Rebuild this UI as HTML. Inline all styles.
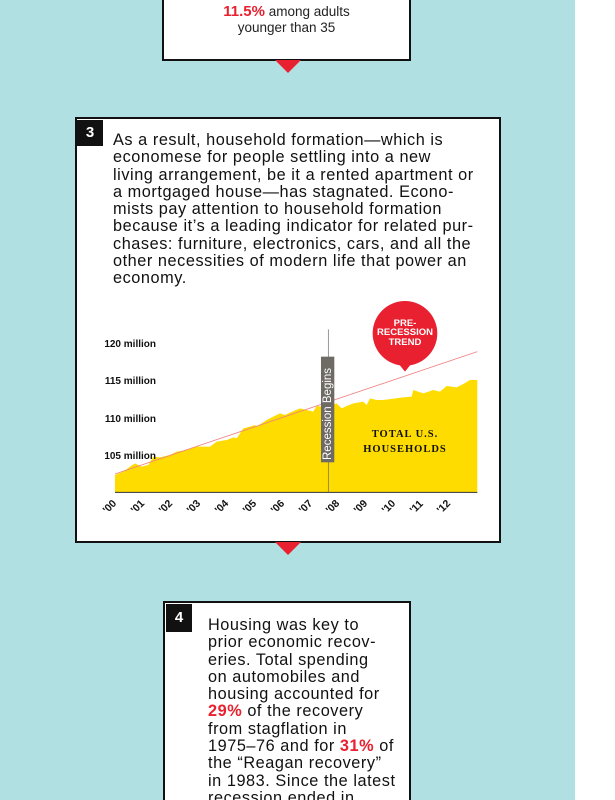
<!DOCTYPE html>
<html><head><meta charset="utf-8"><style>
html,body{margin:0;padding:0;overflow:hidden;}
body{width:615px;height:800px;position:relative;background:#fff;overflow:hidden;font-family:"Liberation Sans",sans-serif;}
.bg{position:absolute;left:0;top:0;width:575px;height:800px;background:#b0e0e2;}
.box{position:absolute;background:#fff;border:2px solid #111;box-sizing:border-box;}
.badge{position:absolute;background:#111;color:#fff;font-weight:bold;font-size:15px;text-align:center;}
.tri{position:absolute;width:0;height:0;border-left:13px solid transparent;border-right:13px solid transparent;border-top:13px solid #e8202f;}
.red{color:#e8202f;font-weight:bold;}
.txt{position:absolute;font-size:16.3px;line-height:17.3px;color:#111;white-space:nowrap;letter-spacing:0.55px;}
</style></head><body>
<div class="bg"></div>

<div class="box" style="left:162px;top:-4px;width:249px;height:65px;"></div>
<div style="position:absolute;left:162px;top:4px;width:249px;text-align:center;font-size:13.5px;line-height:16px;color:#222;"><span class="red" style="font-size:15px">11.5%</span> among adults<br>younger than 35</div>
<div class="tri" style="left:275px;top:60px;"></div>

<div class="box" style="left:75px;top:117px;width:426px;height:426px;"></div>
<div class="badge" style="left:77px;top:120px;width:26px;height:26px;line-height:26px;">3</div>
<div class="txt" style="left:113px;top:132px;">As a result, household formation—which is<br>economese for people settling into a new<br>living arrangement, be it a rented apartment or<br>a mortgaged house—has stagnated. Econo-<br>mists pay attention to household formation<br>because it’s a leading indicator for related pur-<br>chases: furniture, electronics, cars, and all the<br>other necessities of modern life that power an<br>economy.</div>

<svg style="position:absolute;left:0;top:0" width="615" height="800">
<g transform="translate(70,300) scale(0.3333)">
<polygon fill="#ffdc00" points="135,577 135,525 160,515 180,500 195,490 215,500 235,495 250,470 270,472 300,465 320,455 350,450 380,440 420,440 440,425 470,420 490,412 500,415 520,385 540,380 555,375 560,380 590,360 610,350 630,340 645,345 660,338 690,325 730,335 740,318 760,320 780,315 800,310 815,325 830,318 850,310 880,305 890,315 900,295 920,300 940,300 970,296 1000,292 1025,290 1030,270 1060,280 1090,270 1110,275 1130,258 1160,262 1180,252 1200,240 1222,240 1222,577"/>
<line x1="135" y1="522" x2="1222" y2="155" stroke="#f08080" stroke-width="2.5"/>
<line x1="135" y1="577" x2="1222" y2="577" stroke="#333" stroke-width="3"/>
<line x1="775" y1="88" x2="775" y2="577" stroke="#666" stroke-width="2"/>
<rect x="753" y="170" width="40" height="317" fill="#6e6a64"/>
<circle cx="1005" cy="100" r="97" fill="#e8202f"/>
<polygon points="985,190 1025,190 1005,215" fill="#e8202f"/>
</g>
<g font-family="Liberation Sans,sans-serif" font-weight="bold" font-size="10" fill="#111" text-anchor="end">
<text x="156" y="347">120 million</text>
<text x="156" y="384">115 million</text>
<text x="156" y="422">110 million</text>
<text x="156" y="459">105 million</text>
</g>
<text transform="translate(331,460) rotate(-90)" font-family="Liberation Sans,sans-serif" font-size="11.5" fill="#fff">Recession Begins</text>
<g font-family="Liberation Sans,sans-serif" font-weight="bold" font-size="9.5" fill="#fff" text-anchor="middle">
<text x="405" y="326">PRE-</text><text x="405" y="335">RECESSION</text><text x="405" y="345">TREND</text>
</g>
<g font-family="Liberation Serif,serif" font-weight="bold" font-size="10.5" fill="#111" text-anchor="middle" letter-spacing="1">
<text x="405" y="437">TOTAL U.S.</text><text x="405" y="452">HOUSEHOLDS</text>
</g>
<g font-family="Liberation Sans,sans-serif" font-weight="bold" font-size="10.5" fill="#111">
<text transform="translate(107,514) rotate(-45)">'00</text>
<text transform="translate(135,514) rotate(-45)">'01</text>
<text transform="translate(163,514) rotate(-45)">'02</text>
<text transform="translate(191,514) rotate(-45)">'03</text>
<text transform="translate(219,514) rotate(-45)">'04</text>
<text transform="translate(247,514) rotate(-45)">'05</text>
<text transform="translate(275,514) rotate(-45)">'06</text>
<text transform="translate(303,514) rotate(-45)">'07</text>
<text transform="translate(330,514) rotate(-45)">'08</text>
<text transform="translate(358,514) rotate(-45)">'09</text>
<text transform="translate(386,514) rotate(-45)">'10</text>
<text transform="translate(414,514) rotate(-45)">'11</text>
<text transform="translate(441,514) rotate(-45)">'12</text>
</g>
</svg>
<div class="tri" style="left:275px;top:542px;"></div>

<div class="box" style="left:163px;top:601px;width:248px;height:215px;"></div>
<div class="badge" style="left:166px;top:604px;width:26px;height:28px;line-height:28px;">4</div>
<div class="txt" style="left:208px;top:617px;">Housing was key to<br>prior economic recov-<br>eries. Total spending<br>on automobiles and<br>housing accounted for<br><span class="red">29%</span> of the recovery<br>from stagflation in<br>1975–76 and for <span class="red">31%</span> of<br>the “Reagan recovery”<br>in 1983. Since the latest<br>recession ended in</div>
</body></html>
